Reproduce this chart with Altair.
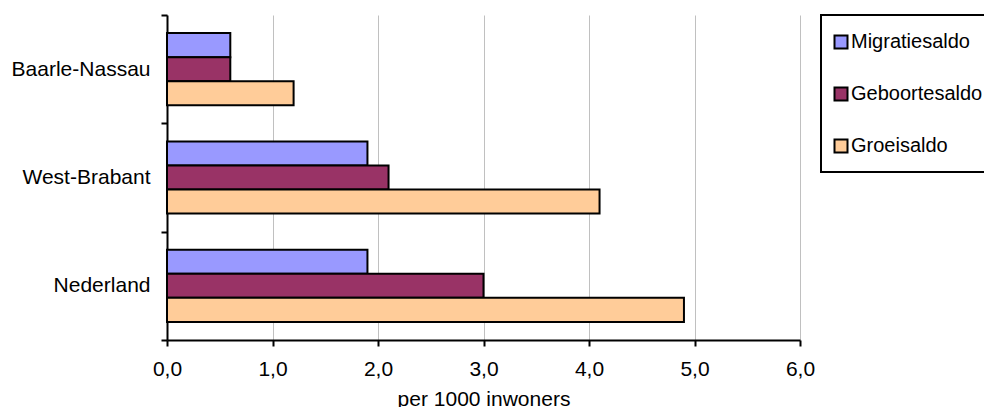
import altair as alt
import pandas as pd

regions = ["Baarle-Nassau", "West-Brabant", "Nederland"]
series = ["Migratiesaldo", "Geboortesaldo", "Groeisaldo"]
migratie = [0.6, 1.9, 1.9]
geboorte = [0.6, 2.1, 3.0]
groei = [1.2, 4.1, 4.9]
colors = ["#9999FF", "#993366", "#FFCC99"]
x_ticks = [0, 1, 2, 3, 4, 5, 6]

rows = []
for i, r in enumerate(regions):
    for s, vals in zip(series, [migratie, geboorte, groei]):
        rows.append({"regio": r, "reeks": s, "waarde": vals[i]})
df = pd.DataFrame(rows)

font = "Liberation Sans"
fs = 21

bars = alt.Chart(df).mark_bar(stroke="black", strokeWidth=2).encode(
    x=alt.X(
        "waarde:Q",
        scale=alt.Scale(domain=[0, 6], nice=False),
        axis=alt.Axis(
            values=x_ticks,
            labelExpr="replace(format(datum.value, '.1f'), '.', ',')",
            labelFlush=False,
            title="per 1000 inwoners",
            grid=True,
            gridColor="#c0c0c0",
            gridWidth=1,
            domainColor="black",
            domainWidth=2,
            tickColor="black",
            tickWidth=2,
            tickSize=6,
            labelFont=font,
            labelFontSize=fs,
            labelColor="black",
            labelPadding=12,
            titleFont=font,
            titleFontSize=fs,
            titleFontWeight="normal",
            titleColor="black",
            titleY=65,
            titleBaseline="alphabetic",
        ),
    ),
    y=alt.Y(
        "regio:N",
        sort=regions,
        scale=alt.Scale(paddingInner=0, paddingOuter=0),
        axis=alt.Axis(
            title=None,
            tickBand="extent",
            domainColor="black",
            domainWidth=2,
            tickColor="black",
            tickWidth=2,
            tickSize=6,
            labelFont=font,
            labelFontSize=fs,
            labelColor="black",
            labelPadding=11,
        ),
    ),
    yOffset=alt.YOffset(
        "reeks:N", sort=series, scale=alt.Scale(paddingInner=0, paddingOuter=0.75)
    ),
    color=alt.Color(
        "reeks:N",
        sort=series,
        scale=alt.Scale(domain=series, range=colors),
        legend=alt.Legend(
            title=None,
            orient="none",
            legendX=654,
            legendY=0,
            symbolType="square",
            symbolSize=169,
            symbolStrokeColor="black",
            symbolStrokeWidth=2,
            symbolOffset=-7,
            labelFont=font,
            labelFontSize=20,
            labelColor="black",
            labelOffset=0,
            labelLimit=300,
            rowPadding=30,
            padding=17,
        ),
    ),
)

frame = alt.Chart(pd.DataFrame({"f": [0]})).mark_rect(
    fill=None, stroke="black", strokeWidth=2
).encode(
    x=alt.value(654), x2=alt.value(900), y=alt.value(0), y2=alt.value(157)
)

chart = alt.layer(bars, frame).properties(
    width=633,
    height=325,
    autosize=alt.AutoSizeParams(type="none"),
    padding={"left": 159, "top": 7, "right": 184, "bottom": 67},
).configure_view(stroke=None)

chart.save("out.html", embed_options={"renderer": "svg", "actions": False})
